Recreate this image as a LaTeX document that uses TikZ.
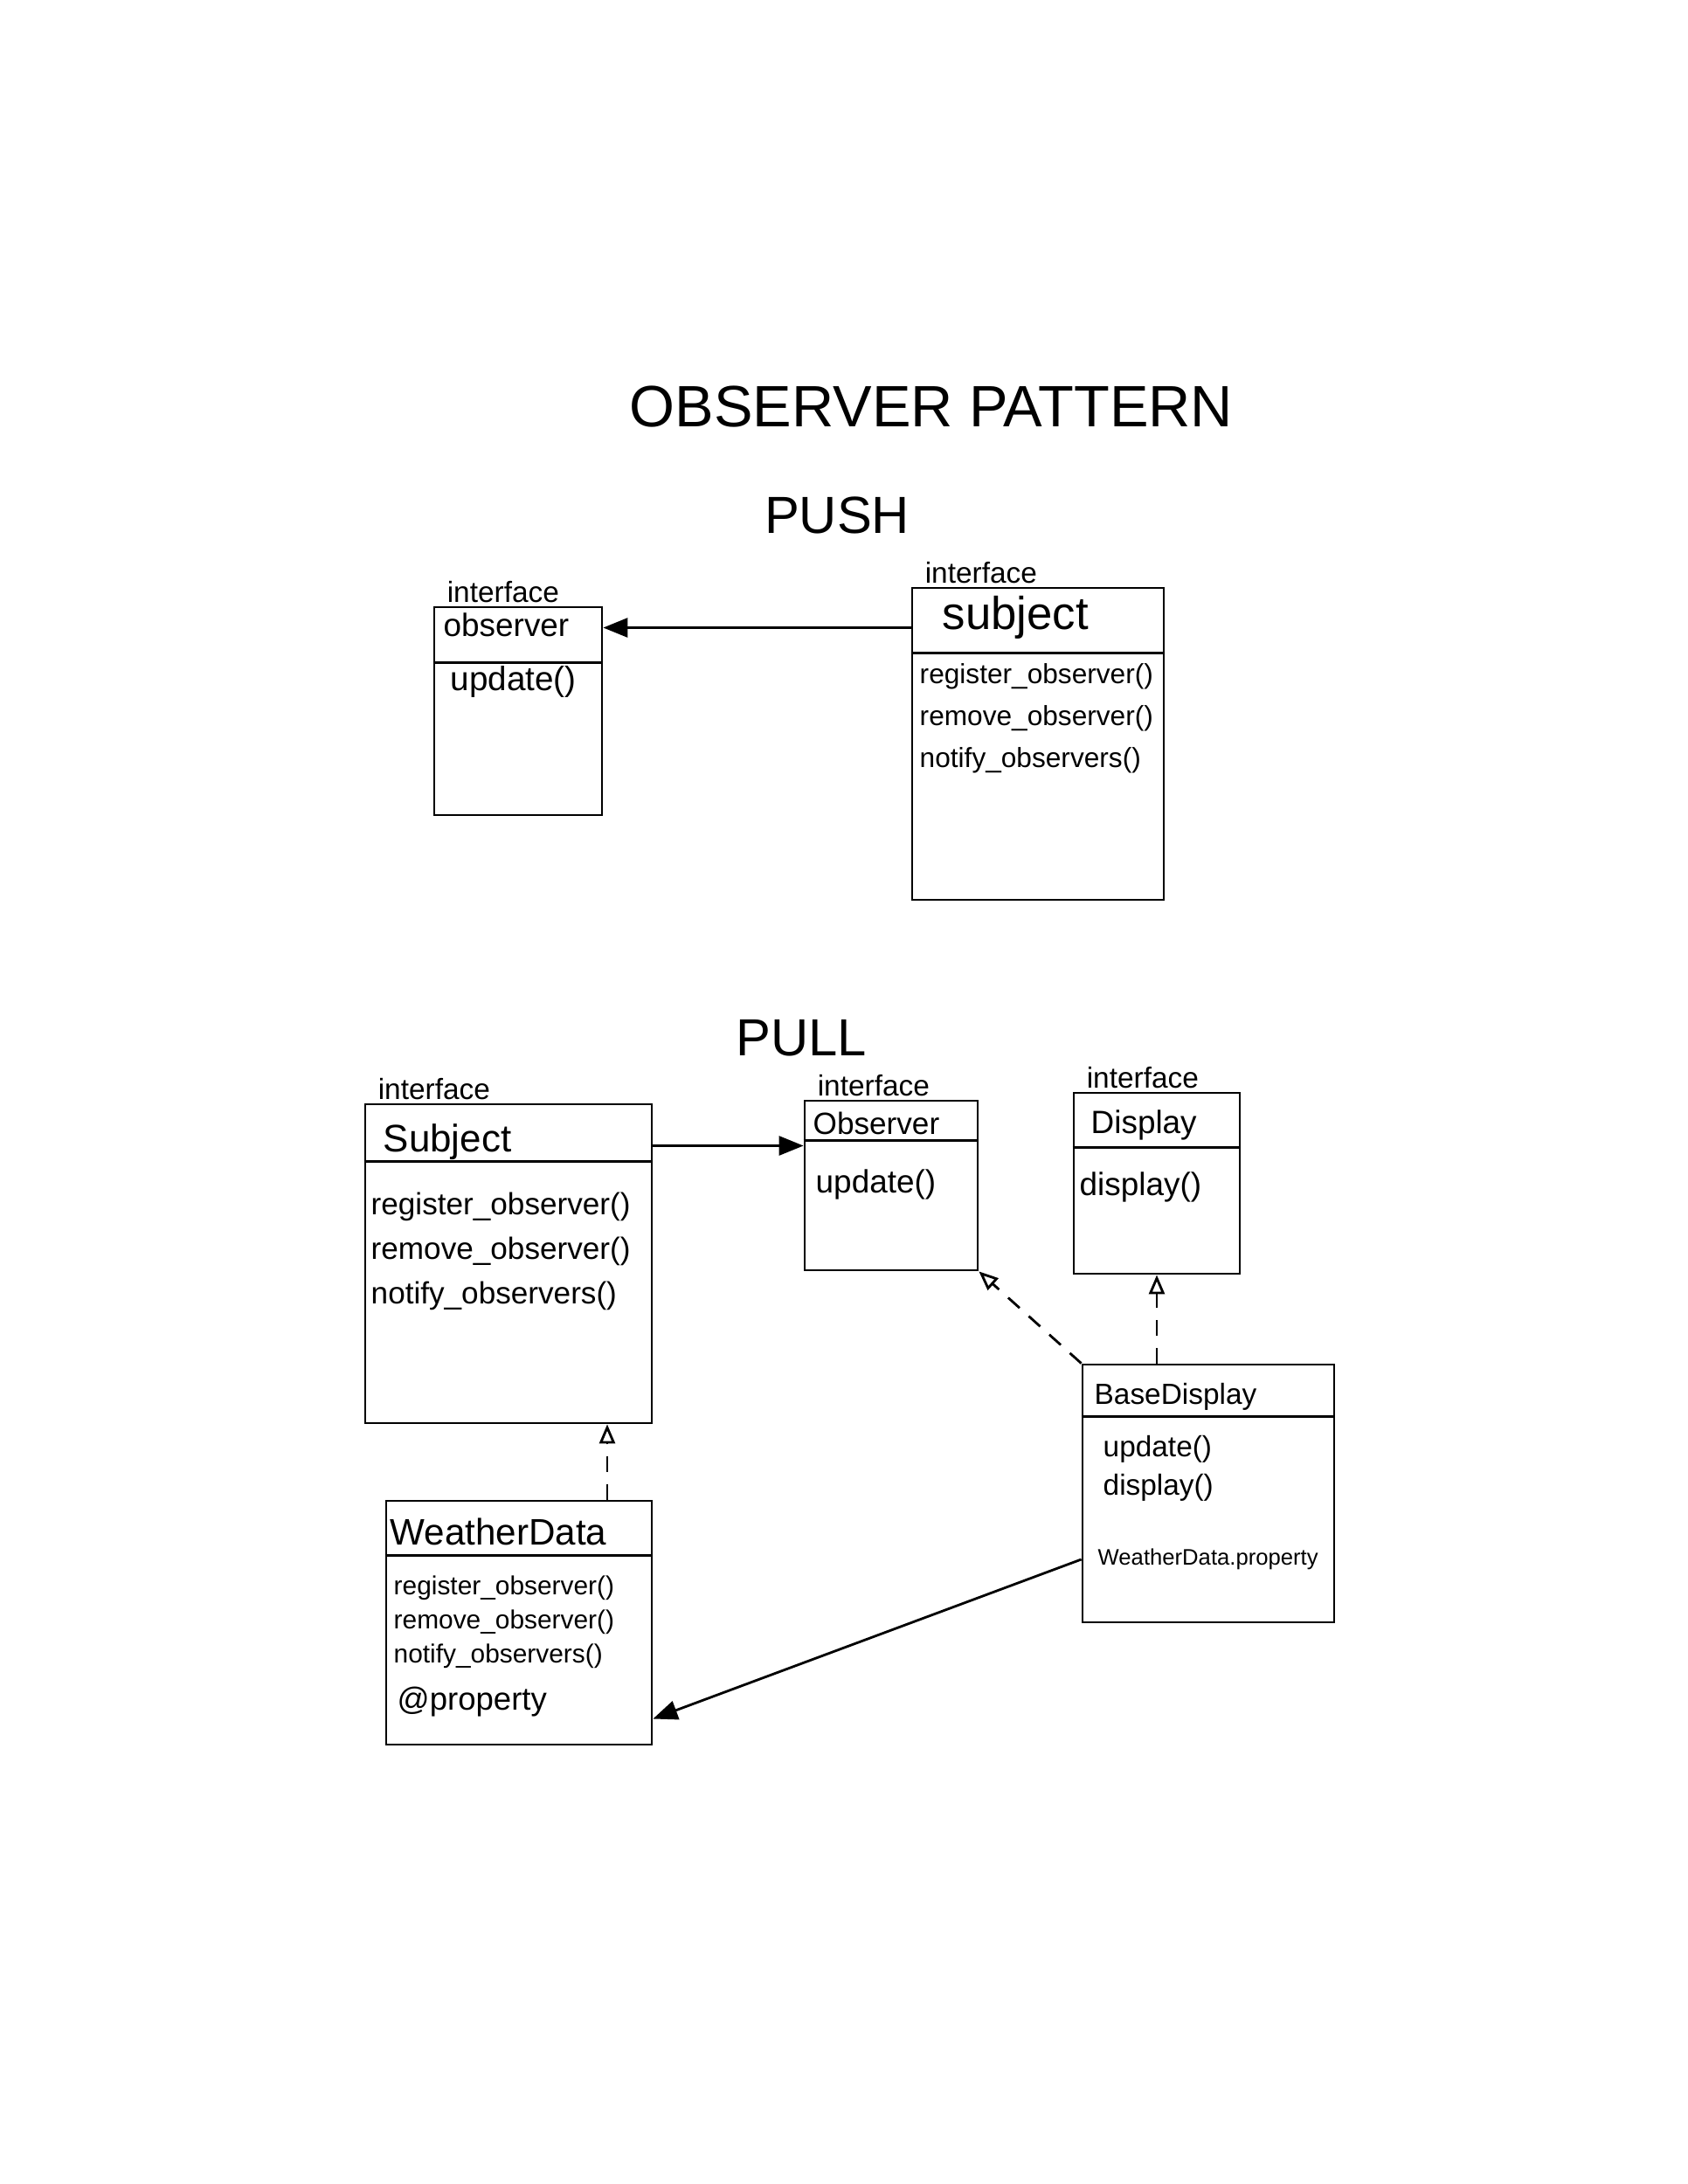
\documentclass[tikz,border=0pt]{standalone}
\usepackage{fontspec}
\setmainfont{Liberation Sans}
\usetikzlibrary{arrows.meta,positioning}
\newcommand\fsz[2]{\fontsize{#1}{#2}\selectfont}
\tikzset{cls/.style={draw,thick,inner sep=0pt},head/.style={anchor=base west,inner sep=0pt},meth/.style={anchor=north west,inner sep=0pt,align=left},stereo/.style={anchor=south west,inner sep=1pt,font=\fsz{9.5}{11}},assoc/.style={-{Triangle[length=2.8mm,width=2.2mm]},thick},real/.style={-{Triangle[open,length=2.2mm,width=1.8mm]},thick,dashed,dash pattern=on 5pt off 4pt}}

\begin{document}
\begin{tikzpicture}[x=1cm,y=-1cm]
\fill[white] (0,0) rectangle (19.32,25);
\useasboundingbox (0,0) rectangle (19.32,25);
\node[font=\fsz{19}{23}] (title) at (10.66,4.66) {OBSERVER PATTERN};
\node[font=\fsz{17}{20}] (push) at (9.58,5.90) {PUSH};
\node[font=\fsz{17}{20}] (pull) at (9.17,11.88) {PULL};
% push
\node[cls,minimum width=1.92cm,minimum height=2.38cm] (pushobs) at (5.93,8.14) {};
\node[cls,minimum width=2.88cm,minimum height=3.57cm] (pushsub) at (11.88,8.515) {};
\node[head,font=\fsz{10.5}{12}] (pushobsname) at (5.07,7.28) {observer};
\node[head,font=\fsz{15}{18}] (pushsubname) at (10.78,7.20) {subject};
\node[meth,font=\fsz{11}{13}] (pushobsm) at (5.15,7.62) {update()};
\node[meth,font=\fsz{9}{13.7}] (pushsubm) at (10.52,7.59) {register\_observer()\\remove\_observer()\\notify\_observers()};
% pull
\node[cls,minimum width=3.28cm,minimum height=3.65cm] (pullsub) at (5.82,14.465) {};
\node[cls,minimum width=1.98cm,minimum height=1.94cm] (pullobs) at (10.20,13.57) {};
\node[cls,minimum width=1.90cm,minimum height=2.07cm] (display) at (13.24,13.545) {};
\node[cls,minimum width=2.88cm,minimum height=2.95cm] (base) at (13.83,17.095) {};
\node[cls,minimum width=3.04cm,minimum height=2.79cm] (weather) at (5.94,18.575) {};
\node[head,font=\fsz{12.5}{15}] (pullsubname) at (4.38,13.18) {Subject};
\node[head,font=\fsz{10}{12}] (pullobsname) at (9.30,12.98) {Observer};
\node[head,font=\fsz{10.5}{12}] (displayname) at (12.48,12.97) {Display};
\node[head,font=\fsz{9.5}{11}] (basename) at (12.52,16.07) {BaseDisplay};
\node[head,font=\fsz{12}{14}] (weathername) at (4.46,17.68) {WeatherData};
\node[meth,font=\fsz{10}{14.5}] (pullsubm) at (4.24,13.64) {register\_observer()\\remove\_observer()\\notify\_observers()};
\node[meth,font=\fsz{10.5}{12}] (pullobsm) at (9.33,13.38) {update()};
\node[meth,font=\fsz{10.5}{12}] (displaym) at (12.35,13.41) {display()};
\node[meth,font=\fsz{9.5}{12.5}] (basem) at (12.62,16.43) {update()\\display()};
\node[anchor=west,inner sep=0pt,font=\fsz{7.3}{9}] (baseprop) at (12.56,17.85) {WeatherData.property};
\node[meth,font=\fsz{8.5}{11.1}] (weatherm) at (4.50,18.035) {register\_observer()\\remove\_observer()\\notify\_observers()};
\node[anchor=west,inner sep=0pt,font=\fsz{10.4}{12}] (weatherprop) at (4.54,19.48) {@property};
% stereotypes and separators
\foreach \b in {pushobs,pushsub,pullsub,pullobs,display}
  \node[stereo] (\b-st) at ([xshift=0.12cm]\b.north west) {interface};
\foreach \b/\h in {pushobs/0.65,pushsub/0.76,pullsub/0.67,pullobs/0.47,display/0.64,base/0.61,weather/0.64}
  \draw[thick] ([yshift=-\h*1cm]\b.north west) -- ([yshift=-\h*1cm]\b.north east);
% connectors
\coordinate (pusharrow) at ([yshift=1.33cm]pushsub.west);
\draw[assoc] (pusharrow) -- (pusharrow -| pushobs.east);
\coordinate (pullarrow) at ([yshift=1.35cm]pullsub.east);
\draw[assoc] (pullarrow) -- (pullarrow -| pullobs.west);
\coordinate (wdtop) at ([xshift=1.01cm]weather.north);
\draw[real] (wdtop) -- (wdtop |- pullsub.south);
\draw[real] (base.north west) -- (pullobs.south east);
\draw[real] (display.south |- base.north) -- (display.south);
\draw[assoc] (base.west |- baseprop.west) -- ([yshift=-1.1cm]weather.east);
\end{tikzpicture}
\end{document}
